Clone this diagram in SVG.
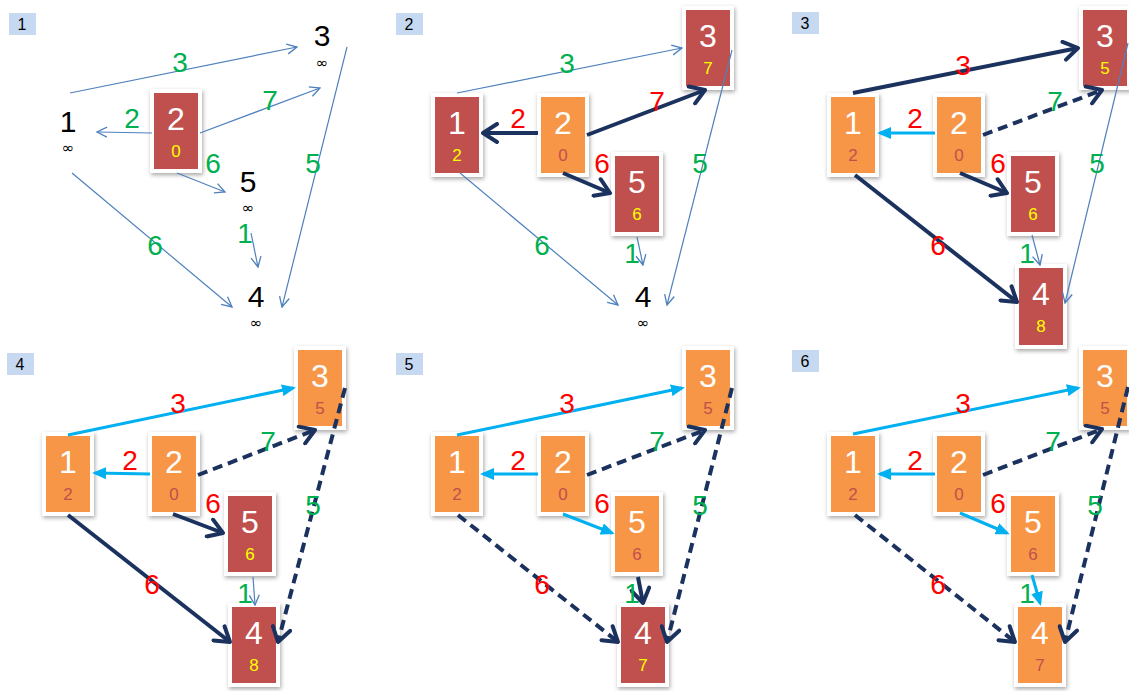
<svg xmlns="http://www.w3.org/2000/svg" width="1129" height="691" viewBox="0 0 1129 691">
<defs>
<style>
.fr{fill:#fff;filter:url(#sh)}
.r{fill:#c0504d}
.o{fill:#f79646}
.big{font-family:'Liberation Sans',Arial,sans-serif;font-size:32px;fill:#fff;text-anchor:middle}
.sm{font-family:'Liberation Sans',Arial,sans-serif;font-size:17px;text-anchor:middle}
.sy{fill:#ffff00}
.so{fill:#c0504d}
.bk{font-family:'Liberation Sans',Arial,sans-serif;font-size:30px;fill:#000;text-anchor:middle}
.inf{font-family:'DejaVu Sans',sans-serif;font-size:15px;fill:#000;text-anchor:middle}
.pl{fill:#c6d9f1}
.pt{font-family:'Liberation Sans',Arial,sans-serif;font-size:16px;fill:#000;text-anchor:middle}
.thin{stroke:#4f81bd;stroke-width:1.2;fill:none;marker-end:url(#mT)}
.nv{stroke:#1c325e;stroke-width:4;fill:none;marker-end:url(#mN)}
.dn{stroke:#1c325e;stroke-width:4;fill:none;stroke-dasharray:10 6;marker-end:url(#mN)}
.lb{stroke:#00b0f0;stroke-width:3;fill:none;marker-end:url(#mL)}
.el{font-family:'Liberation Sans',Arial,sans-serif;font-size:28px;text-anchor:middle}
.lr{fill:#ff0000}
.lg{fill:#00b050}
</style>
<filter id="sh" x="-30%" y="-20%" width="160%" height="140%">
<feDropShadow dx="1" dy="2" stdDeviation="2" flood-color="#000" flood-opacity="0.35"/>
</filter>
<marker id="mT" viewBox="0 0 12 12" refX="11" refY="6" markerWidth="12" markerHeight="12" orient="auto" markerUnits="userSpaceOnUse">
<path d="M1,1 L11,6 L1,11" fill="none" stroke="#4f81bd" stroke-width="1.3"/>
</marker>
<marker id="mN" viewBox="0 0 20 22" refX="17" refY="11" markerWidth="20" markerHeight="22" orient="auto" markerUnits="userSpaceOnUse">
<path d="M3,2 L17,11 L3,20" fill="none" stroke="#1c325e" stroke-width="4" stroke-linecap="round" stroke-linejoin="round"/>
</marker>
<marker id="mL" viewBox="0 0 14 12" refX="11" refY="6" markerWidth="14" markerHeight="12" orient="auto" markerUnits="userSpaceOnUse">
<path d="M0,0 L14,6 L0,12 z" fill="#00b0f0"/>
</marker>
</defs>
<rect width="1129" height="691" fill="#fff"/>

<!-- panel labels -->
<g id="panel-labels">
<rect class="pl" x="9" y="13" width="27" height="22"/><text class="pt" x="22" y="30">1</text>
<rect class="pl" x="396" y="13" width="27" height="22"/><text class="pt" x="409" y="30">2</text>
<rect class="pl" x="792" y="12" width="27" height="22"/><text class="pt" x="805" y="29">3</text>
<rect class="pl" x="7" y="353" width="27" height="22"/><text class="pt" x="20" y="370">4</text>
<rect class="pl" x="396" y="353" width="27" height="22"/><text class="pt" x="409" y="370">5</text>
<rect class="pl" x="792" y="350" width="27" height="22"/><text class="pt" x="805" y="367">6</text>
</g>

<!-- Panel 1 nodes -->
<g id="p1-n1"><text class="bk" x="68" y="132">1</text><text class="inf" x="68" y="153">∞</text></g>
<g id="p1-n2"><rect class="fr" x="150" y="89" width="52" height="84"/><rect class="r" x="154" y="93" width="44" height="76"/><text class="big" x="176" y="130">2</text><text class="sm sy" x="176" y="157">0</text></g>
<g id="p1-n3"><text class="bk" x="322" y="46">3</text><text class="inf" x="322" y="68">∞</text></g>
<g id="p1-n5"><text class="bk" x="248" y="192">5</text><text class="inf" x="248" y="213">∞</text></g>
<g id="p1-n4"><text class="bk" x="256" y="307">4</text><text class="inf" x="256" y="328">∞</text></g>

<!-- Panel 2 nodes -->
<g id="p2-n1"><rect class="fr" x="431" y="93" width="52" height="84"/><rect class="r" x="435" y="97" width="44" height="76"/><text class="big" x="457" y="134">1</text><text class="sm sy" x="457" y="161">2</text></g>
<g id="p2-n2"><rect class="fr" x="537" y="93" width="52" height="84"/><rect class="o" x="541" y="97" width="44" height="76"/><text class="big" x="563" y="134">2</text><text class="sm so" x="563" y="161">0</text></g>
<g id="p2-n3"><rect class="fr" x="682" y="6" width="52" height="84"/><rect class="r" x="686" y="10" width="44" height="76"/><text class="big" x="708" y="47">3</text><text class="sm sy" x="708" y="74">7</text></g>
<g id="p2-n5"><rect class="fr" x="611" y="152" width="52" height="84"/><rect class="r" x="615" y="156" width="44" height="76"/><text class="big" x="637" y="193">5</text><text class="sm sy" x="637" y="220">6</text></g>
<g id="p2-n4"><text class="bk" x="643" y="307">4</text><text class="inf" x="643" y="328">∞</text></g>

<!-- Panel 3 nodes -->
<g id="p3-n1"><rect class="fr" x="827" y="93" width="52" height="84"/><rect class="o" x="831" y="97" width="44" height="76"/><text class="big" x="853" y="134">1</text><text class="sm so" x="853" y="161">2</text></g>
<g id="p3-n2"><rect class="fr" x="933" y="93" width="52" height="84"/><rect class="o" x="937" y="97" width="44" height="76"/><text class="big" x="959" y="134">2</text><text class="sm so" x="959" y="161">0</text></g>
<g id="p3-n3"><rect class="fr" x="1079" y="6" width="52" height="84"/><rect class="r" x="1083" y="10" width="44" height="76"/><text class="big" x="1105" y="47">3</text><text class="sm sy" x="1105" y="74">5</text></g>
<g id="p3-n5"><rect class="fr" x="1007" y="152" width="52" height="84"/><rect class="r" x="1011" y="156" width="44" height="76"/><text class="big" x="1033" y="193">5</text><text class="sm sy" x="1033" y="220">6</text></g>
<g id="p3-n4"><rect class="fr" x="1015" y="264" width="52" height="85"/><rect class="r" x="1019" y="268" width="44" height="77"/><text class="big" x="1041" y="305">4</text><text class="sm sy" x="1041" y="332">8</text></g>

<!-- Panel 4 nodes -->
<g id="p4-n1"><rect class="fr" x="42" y="432" width="52" height="84"/><rect class="o" x="46" y="436" width="44" height="76"/><text class="big" x="68" y="473">1</text><text class="sm so" x="68" y="500">2</text></g>
<g id="p4-n2"><rect class="fr" x="148" y="432" width="52" height="84"/><rect class="o" x="152" y="436" width="44" height="76"/><text class="big" x="174" y="473">2</text><text class="sm so" x="174" y="500">0</text></g>
<g id="p4-n3"><rect class="fr" x="294" y="346" width="52" height="84"/><rect class="o" x="298" y="350" width="44" height="76"/><text class="big" x="320" y="387">3</text><text class="sm so" x="320" y="414">5</text></g>
<g id="p4-n5"><rect class="fr" x="224" y="492" width="52" height="84"/><rect class="r" x="228" y="496" width="44" height="76"/><text class="big" x="250" y="533">5</text><text class="sm sy" x="250" y="560">6</text></g>
<g id="p4-n4"><rect class="fr" x="228" y="603" width="52" height="84"/><rect class="r" x="232" y="607" width="44" height="76"/><text class="big" x="254" y="644">4</text><text class="sm sy" x="254" y="671">8</text></g>

<!-- Panel 5 nodes -->
<g id="p5-n1"><rect class="fr" x="431" y="432" width="52" height="84"/><rect class="o" x="435" y="436" width="44" height="76"/><text class="big" x="457" y="473">1</text><text class="sm so" x="457" y="500">2</text></g>
<g id="p5-n2"><rect class="fr" x="537" y="432" width="52" height="84"/><rect class="o" x="541" y="436" width="44" height="76"/><text class="big" x="563" y="473">2</text><text class="sm so" x="563" y="500">0</text></g>
<g id="p5-n3"><rect class="fr" x="682" y="346" width="52" height="84"/><rect class="o" x="686" y="350" width="44" height="76"/><text class="big" x="708" y="387">3</text><text class="sm so" x="708" y="414">5</text></g>
<g id="p5-n5"><rect class="fr" x="611" y="492" width="52" height="84"/><rect class="o" x="615" y="496" width="44" height="76"/><text class="big" x="637" y="533">5</text><text class="sm so" x="637" y="560">6</text></g>
<g id="p5-n4"><rect class="fr" x="617" y="603" width="52" height="84"/><rect class="r" x="621" y="607" width="44" height="76"/><text class="big" x="643" y="644">4</text><text class="sm sy" x="643" y="671">7</text></g>

<!-- Panel 6 nodes -->
<g id="p6-n1"><rect class="fr" x="827" y="432" width="52" height="84"/><rect class="o" x="831" y="436" width="44" height="76"/><text class="big" x="853" y="473">1</text><text class="sm so" x="853" y="500">2</text></g>
<g id="p6-n2"><rect class="fr" x="933" y="432" width="52" height="84"/><rect class="o" x="937" y="436" width="44" height="76"/><text class="big" x="959" y="473">2</text><text class="sm so" x="959" y="500">0</text></g>
<g id="p6-n3"><rect class="fr" x="1079" y="346" width="52" height="84"/><rect class="o" x="1083" y="350" width="44" height="76"/><text class="big" x="1105" y="387">3</text><text class="sm so" x="1105" y="414">5</text></g>
<g id="p6-n5"><rect class="fr" x="1007" y="492" width="52" height="84"/><rect class="o" x="1011" y="496" width="44" height="76"/><text class="big" x="1033" y="533">5</text><text class="sm so" x="1033" y="560">6</text></g>
<g id="p6-n4"><rect class="fr" x="1014" y="603" width="52" height="84"/><rect class="o" x="1018" y="607" width="44" height="76"/><text class="big" x="1040" y="644">4</text><text class="sm so" x="1040" y="671">7</text></g>

<g id="connectors">
<!-- Panel 1 -->
<path class="thin" d="M70,93 L297,47"/>
<path class="thin" d="M152,133 L97,132"/>
<path class="thin" d="M200,133 L320,88"/>
<path class="thin" d="M177,173 L225,192"/>
<path class="thin" d="M72,173 L232,307"/>
<path class="thin" d="M251,233 L258,267"/>
<path class="thin" d="M347,47 L282,307"/>
<!-- Panel 2 -->
<path class="thin" d="M457,93 L682,48"/>
<path class="nv" d="M538,133 L483,133"/>
<path class="nv" d="M587,135 L705,90"/>
<path class="nv" d="M563,173 L610,193"/>
<path class="thin" d="M460,173 L618,305"/>
<path class="thin" d="M637,237 L643,265"/>
<path class="thin" d="M732,50 L667,305"/>
<!-- Panel 3 -->
<path class="nv" d="M853,93 L1078,48"/>
<path class="lb" d="M935,133 L880,133"/>
<path class="dn" d="M983,135 L1102,90"/>
<path class="nv" d="M960,173 L1007,193"/>
<path class="nv" d="M855,175 L1017,302"/>
<path class="thin" d="M1032,235 L1040,265"/>
<path class="thin" d="M1128,43 L1065,303"/>
<!-- Panel 4 -->
<path class="lb" d="M68,435 L293,388"/>
<path class="lb" d="M150,474 L95,473"/>
<path class="dn" d="M198,475 L315,430"/>
<path class="nv" d="M173,514 L223,533"/>
<path class="nv" d="M68,515 L230,642"/>
<path class="thin" d="M253,577 L255,605"/>
<path class="dn" d="M345,388 L278,642"/>
<!-- Panel 5 -->
<path class="lb" d="M457,435 L682,388"/>
<path class="lb" d="M538,474 L483,474"/>
<path class="dn" d="M587,475 L705,430"/>
<path class="lb" d="M563,514 L612,533"/>
<path class="dn" d="M458,515 L618,642"/>
<path class="nv" d="M638,577 L643,603"/>
<path class="dn" d="M732,388 L667,642"/>
<!-- Panel 6 -->
<path class="lb" d="M853,434 L1078,388"/>
<path class="lb" d="M935,474 L880,474"/>
<path class="dn" d="M983,475 L1102,429"/>
<path class="lb" d="M960,513 L1007,533"/>
<path class="dn" d="M855,515 L1015,642"/>
<path class="lb" d="M1032,575 L1040,603"/>
<path class="dn" d="M1128,387 L1065,642"/>
</g>

<g id="edge-labels">
<!-- Panel 1 -->
<text class="el lg" x="180" y="72">3</text>
<text class="el lg" x="132" y="128">2</text>
<text class="el lg" x="270" y="110">7</text>
<text class="el lg" x="213" y="173">6</text>
<text class="el lg" x="155" y="255">6</text>
<text class="el lg" x="245" y="243">1</text>
<text class="el lg" x="313" y="173">5</text>
<!-- Panel 2 -->
<text class="el lg" x="567" y="73">3</text>
<text class="el lr" x="518" y="128">2</text>
<text class="el lr" x="657" y="111">7</text>
<text class="el lr" x="602" y="173">6</text>
<text class="el lg" x="542" y="255">6</text>
<text class="el lg" x="632" y="263">1</text>
<text class="el lg" x="700" y="173">5</text>
<!-- Panel 3 -->
<text class="el lr" x="963" y="75">3</text>
<text class="el lr" x="915" y="128">2</text>
<text class="el lg" x="1055" y="111">7</text>
<text class="el lr" x="998" y="173">6</text>
<text class="el lr" x="938" y="255">6</text>
<text class="el lg" x="1027" y="263">1</text>
<text class="el lg" x="1097" y="173">5</text>
<!-- Panel 4 -->
<text class="el lr" x="178" y="413">3</text>
<text class="el lr" x="130" y="470">2</text>
<text class="el lg" x="268" y="451">7</text>
<text class="el lr" x="213" y="513">6</text>
<text class="el lr" x="152" y="594">6</text>
<text class="el lg" x="245" y="603">1</text>
<text class="el lg" x="313" y="515">5</text>
<!-- Panel 5 -->
<text class="el lr" x="567" y="413">3</text>
<text class="el lr" x="518" y="470">2</text>
<text class="el lg" x="657" y="451">7</text>
<text class="el lr" x="602" y="513">6</text>
<text class="el lr" x="542" y="594">6</text>
<text class="el lg" x="632" y="603">1</text>
<text class="el lg" x="700" y="515">5</text>
<!-- Panel 6 -->
<text class="el lr" x="963" y="413">3</text>
<text class="el lr" x="915" y="470">2</text>
<text class="el lg" x="1053" y="451">7</text>
<text class="el lr" x="998" y="513">6</text>
<text class="el lr" x="938" y="594">6</text>
<text class="el lg" x="1027" y="603">1</text>
<text class="el lg" x="1095" y="515">5</text>
</g>
</svg>
